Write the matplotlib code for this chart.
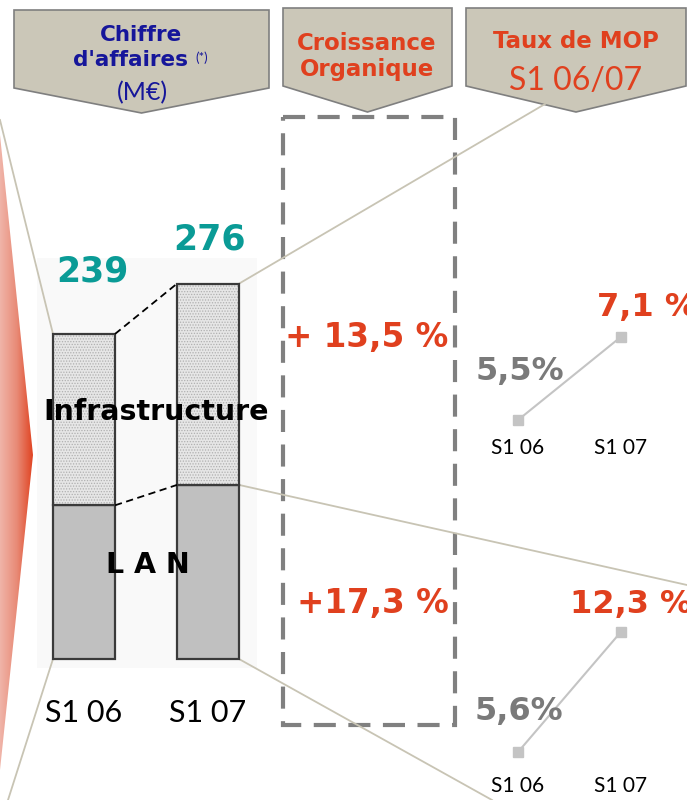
import matplotlib.pyplot as plt
import numpy as np
from matplotlib.patches import Polygon, Rectangle
from matplotlib.colors import LinearSegmentedColormap

plt.rcParams['font.family'] = ['Lato', 'DejaVu Sans']
plt.rcParams['hatch.linewidth'] = 0.6

# data
periods = ["S1 06", "S1 07"]
lan = [113, 128]
infra = [126, 148]
totals = [239, 276]
growth_labels = ["+ 13,5 %", "+17,3 %"]
mop_infra = [5.5, 7.1]
mop_lan = [5.6, 12.3]
mop_infra_labels = ["5,5%", "7,1 %"]
mop_lan_labels = ["5,6%", "12,3 %"]

RED = '#e0401e'
NAVY = '#16169a'
TEAL = '#0a9b96'
KHAKI = '#cbc7b8'
THIN = '#c8c4b4'
GREY_TXT = '#7a7a7a'
BOLD = dict(family='DejaVu Sans', fontweight='bold')

fig = plt.figure(figsize=(6.87, 8.0), dpi=100)

# background layer, pixel coordinates
bg = fig.add_axes([0, 0, 1, 1])
bg.axis('off')

# red chevron on the left
chev = Polygon([(0, 135), (33, 455), (0, 770)], closed=True, fc='none', ec='none')
bg.add_patch(chev)
cmap = LinearSegmentedColormap.from_list('redfade', ['#f0b4a8', '#e88a76', RED])
im = bg.imshow(np.linspace(0, 1, 64).reshape(1, -1), cmap=cmap,
               extent=(0, 34, 770, 135), aspect='auto', zorder=1)
im.set_clip_path(chev)
bg.set_xlim(0, 687)
bg.set_ylim(800, 0)


def header(x0, x1, top, side, tip):
    xm = (x0 + x1) / 2
    pts = [(x0, top), (x1, top), (x1, side), (xm, tip), (x0, side)]
    bg.add_patch(Polygon(pts, closed=True, fc=KHAKI, ec='#7f7f7f', lw=1.2, zorder=2))


header(14, 269, 10, 88, 113)
header(283, 452, 8, 86, 112)
header(466, 686, 8, 86, 112)

bg.text(141, 41, "Chiffre", ha='center', va='baseline', fontsize=15.5, color=NAVY, zorder=3, **BOLD)
bg.text(130, 66, "d'affaires", ha='center', va='baseline', fontsize=15.5, color=NAVY, zorder=3, **BOLD)
bg.text(202, 58, "(*)", ha='center', va='center', fontsize=9.5, color=NAVY, zorder=3)
bg.text(142, 100, "(M€)", ha='center', va='baseline', fontsize=18, color=NAVY, zorder=3)

bg.text(367, 50, "Croissance", ha='center', va='baseline', fontsize=16.5, color=RED, zorder=3, **BOLD)
bg.text(367, 76, "Organique", ha='center', va='baseline', fontsize=16.5, color=RED, zorder=3, **BOLD)
bg.text(576, 48, "Taux de MOP", ha='center', va='baseline', fontsize=16.5, color=RED, zorder=3, **BOLD)
bg.text(576, 90, "S1 06/07", ha='center', va='baseline', fontsize=23, color=RED, zorder=3)

# dashed frame round the growth figures
bg.add_patch(Rectangle((283, 117), 172, 608, fill=False, ec='#808080', lw=3,
                       ls=(0, (5.3, 3)), zorder=4))
for (gx, gy), lab in zip([(367, 338), (373, 603)], growth_labels):
    bg.text(gx, gy, lab, ha='center', va='center', fontsize=23.5, color=RED, zorder=4, **BOLD)

# stacked bars
axb = fig.add_axes([37 / 687, 132 / 800, 220 / 687, 410 / 800], facecolor='#f9f9f9')
x = np.arange(len(periods))
w = 0.5
axb.bar(x, lan, w, color='#c0c0c0', edgecolor='#3a3a3a', lw=1.6, zorder=2)
axb.bar(x, infra, w, bottom=lan, color='#e6e6e6', edgecolor='#b0b0b0', hatch='......', lw=0, zorder=2)
axb.bar(x, infra, w, bottom=lan, fill=False, edgecolor='#3a3a3a', lw=1.6, zorder=3)
axb.plot([x[0] + w / 2, x[1] - w / 2], totals, color='k', lw=1.3, ls=(0, (4, 2.5)), zorder=3)
axb.plot([x[0] + w / 2, x[1] - w / 2], lan, color='k', lw=1.3, ls=(0, (4, 2.5)), zorder=3)
axb.set_xlim(-0.379, 1.395)
axb.set_ylim(-9 / 1.36, 401 / 1.36)
for s in axb.spines.values():
    s.set_visible(False)
axb.set_yticks([])
axb.set_xticks(x, periods)
axb.tick_params(length=0, pad=22, labelsize=22)
for xi, t, off in zip(x, totals, [(6, 45), (1, 32)]):
    axb.annotate(str(t), (xi, t), xytext=off, textcoords='offset points', ha='center', va='center',
                 fontsize=25, color=TEAL, zorder=4, **BOLD)
axb.text(0.541, 0.624, "Infrastructure", transform=axb.transAxes, ha='center', va='center',
         fontsize=20.5, zorder=5, **BOLD)
axb.text(0.505, 0.251, "L A N", transform=axb.transAxes, ha='center', va='center',
         fontsize=20.5, zorder=5, **BOLD)

# thin connector lines from the bar corners (drawn above the bar panel, below the bars)
fig.canvas.draw()


def corner(xd, yd):
    disp = axb.transData.transform((xd, yd))
    return bg.transData.inverted().transform(disp)


links = [
    (corner(x[0] - w / 2, totals[0]), (0, 120)),
    (corner(x[0] - w / 2, 0), (8, 800)),
    (corner(x[1] + w / 2, totals[1]), (545, 104)),
    (corner(x[1] + w / 2, lan[1]), (687, 585)),
    (corner(x[1] + w / 2, 0), (492, 800)),
]
for p, q in links:
    axb.plot([p[0], q[0]], [p[1], q[1]], color=THIN, lw=1.3, zorder=1,
             transform=bg.transData, clip_on=False)
bg.set_xlim(0, 687)
bg.set_ylim(800, 0)


# MOP line panels
def mop_panel(rect, vals, labels, ylim, offsets, colors):
    ax = fig.add_axes(rect)
    ax.patch.set_alpha(0)
    ax.plot([0, 1], vals, color='#c4c4c4', lw=1.5, marker='s', ms=7, mfc='#c4c4c4', mec='#c4c4c4')
    ax.set_xlim(-0.5, 1.5)
    ax.set_ylim(*ylim)
    for s in ax.spines.values():
        s.set_visible(False)
    ax.set_yticks([])
    ax.set_xticks([0, 1], periods)
    ax.tick_params(length=0, pad=4, labelsize=15)
    for xi, v, lab, (dx, dy, ha), col in zip([0, 1], vals, labels, offsets, colors):
        ax.annotate(lab, (xi, v), xytext=(dx, dy), textcoords='offset points', ha=ha, va='center',
                    fontsize=23, color=col, annotation_clip=False, **BOLD)


mop_panel([466.5 / 687, 368 / 800, 206 / 687, 142 / 800], mop_infra, mop_infra_labels,
          (5.27, 8.0), [(1.4, 34.6, 'center'), (-17, 21, 'left')], [GREY_TXT, RED])
mop_panel([466.5 / 687, 30 / 800, 206 / 687, 210 / 800], mop_lan, mop_lan_labels,
          (4.6, 16.3), [(0.7, 29.5, 'center'), (-36.7, 19.4, 'left')], [GREY_TXT, RED])

fig.savefig("out.png", dpi=100)
